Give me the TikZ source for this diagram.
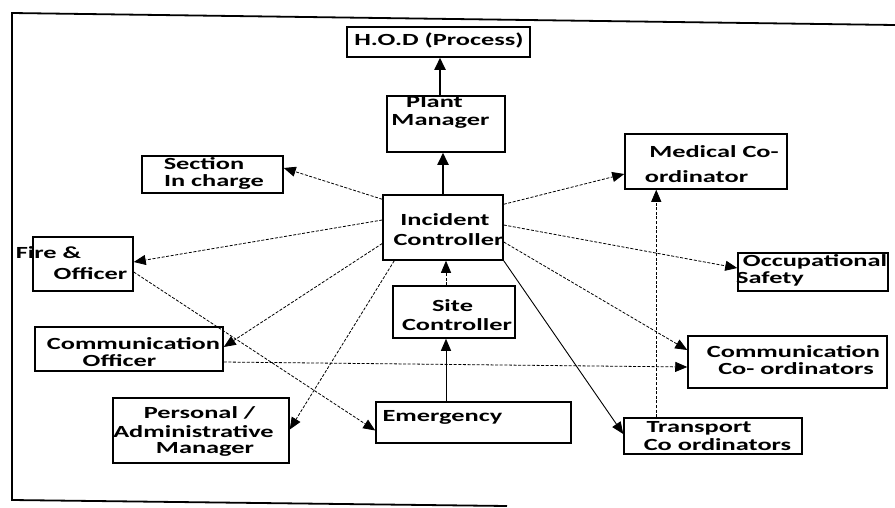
\documentclass[tikz,border=0pt]{standalone}
\usepackage{fontspec}
\setmainfont{Carlito}[FakeStretch=1.55]
\usetikzlibrary{arrows.meta,fit,calc}
\begin{document}
\begin{tikzpicture}[x=1pt,y=-1pt,
  box/.style={draw, line width=1.5pt, inner sep=0pt},
  lbl/.style={inner sep=0pt, anchor=base, font=\fontsize{17}{17}\selectfont\bfseries},
  sarr/.style={line width=1.8pt, -{Triangle[length=12pt,width=11pt]}},
  darr/.style={line width=0.8pt, dash pattern=on 3pt off 1.6pt, -{Triangle[length=12pt,width=10pt]}},
  tarr/.style={line width=0.9pt, -{Triangle[length=12pt,width=10pt]}}]
\useasboundingbox (0,0) rectangle (895,507);
\fill[white] (0,0) rectangle (895,507);
% frame
\draw[line width=1.8pt] (895,25) -- (12,13) -- (12,500) -- (507,506);
% boxes
\node[box, fit={(347,27) (530,57)}] (hod) {};
\node[box, fit={(387,96) (505,152)}] (pm) {};
\node[box, fit={(142,156) (283,193)}] (sec) {};
\node[box, fit={(383,195) (503,260)}] (ic) {};
\node[box, fit={(625,134) (787,189)}] (med) {};
\node[box, fit={(33,237) (133,291)}] (fire) {};
\node[box, fit={(35,327) (223,371)}] (comm) {};
\node[box, fit={(113,398) (289,463)}] (pers) {};
\node[box, fit={(393,286) (515,338)}] (site) {};
\node[box, fit={(376,402) (571,443)}] (emer) {};
\node[box, fit={(738,253) (888,291)}] (occ) {};
\node[box, fit={(688,336) (887,388)}] (cco) {};
\node[box, fit={(624,418) (802,454)}] (tra) {};
% labels
\node[lbl] (t-hod) at (439,45) {H.O.D (Process)};
\node[lbl] (t-pm1) at (434.5,107) {Plant};
\node[lbl] (t-pm2) at (440.5,125) {Manager};
\node[lbl] (t-sec1) at (204,169) {Section};
\node[lbl] (t-sec2) at (214,186) {In charge};
\node[lbl] (t-ic1) at (445,225) {Incident};
\node[lbl] (t-ic2) at (448.5,245) {Controller};
\node[lbl] (t-med1) at (714,157) {Medical Co-};
\node[lbl] (t-med2) at (696.5,182) {ordinator};
\node[lbl] (t-fire1) at (48.5,258) {Fire \&};
\node[lbl] (t-fire2) at (90.5,279) {Officer};
\node[lbl] (t-comm1) at (133.5,349) {Communication};
\node[lbl] (t-comm2) at (119.5,366) {Officer};
\node[lbl] (t-pers1) at (199.5,418) {Personal /};
\node[lbl] (t-pers2) at (193.5,437) {Administrative};
\node[lbl] (t-pers3) at (205,453) {Manager};
\node[lbl] (t-site1) at (452.5,311) {Site};
\node[lbl] (t-site2) at (457,330) {Controller};
\node[lbl] (t-emer) at (442.5,421) {Emergency};
\node[lbl] (t-occ1) at (815,266) {Occupational};
\node[lbl] (t-occ2) at (770,283) {Safety};
\node[lbl] (t-cco1) at (793.5,357) {Communication};
\node[lbl] (t-cco2) at (796,374) {Co- ordinators};
\node[lbl] (t-tra1) at (699,432) {Transport};
\node[lbl] (t-tra2) at (717.5,450) {Co ordinators};
% connectors
\draw[sarr] ($(pm.north)+(-6,0)$) -- ($(hod.south)+(1.5,0)$);
\draw[sarr] (ic.north) -- ($(pm.south)+(-3,0)$);
\draw[darr] ($(ic.north west)+(0,5)$) -- ($(sec.east)+(0,-6.5)$);
\draw[darr] ($(ic.west)+(0,-7.5)$) -- ($(fire.east)+(0,-2)$);
\draw[darr] ($(ic.west)+(0,16)$) -- ($(comm.east)+(0,-2)$);
\draw[darr] ($(ic.south west)+(12,0)$) -- ($(pers.east)+(0,-1)$);
\draw[darr] ($(fire.east)+(0,8)$) -- ($(emer.west)+(0,8)$);
\draw[darr] ($(site.north)+(-8,0)$) -- ($(ic.south)+(3,0)$);
\draw[tarr] ($(emer.north)+(-27.5,0)$) -- ($(site.south)+(-8,0)$);
\draw[darr] ($(comm.east)+(0,13)$) -- ($(cco.west)+(0,5)$);
\draw[darr] ($(ic.north east)+(0,10)$) -- ($(med.west)+(0,12.5)$);
\draw[darr] ($(ic.east)+(0,-2.5)$) -- ($(occ.west)+(0,-4)$);
\draw[darr] ($(ic.east)+(0,14.5)$) -- ($(cco.west)+(0,-12)$);
\draw[tarr] (ic.south east) -- ($(tra.west)+(0,-2)$);
\draw[darr] ($(tra.north west)+(33,0)$) -- ($(med.south west)+(32,0)$);
\end{tikzpicture}
\end{document}
